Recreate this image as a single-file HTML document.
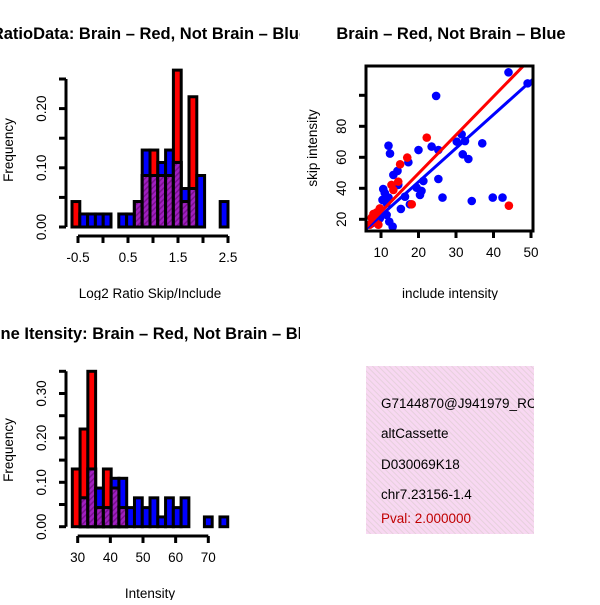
<!DOCTYPE html>
<html><head><meta charset="utf-8"><style>
body{margin:0;background:#fff}
svg text{font-family:"Liberation Sans",sans-serif}
</style></head><body>
<svg id="c" width="600" height="600" xmlns="http://www.w3.org/2000/svg">
<defs>
<pattern id="hatch" width="4" height="4" patternUnits="userSpaceOnUse" patternTransform="rotate(45)">
<rect width="4" height="4" fill="#a020c0"/><rect width="1.5" height="4" fill="#7a1090"/></pattern>
<pattern id="pink" width="4" height="4" patternUnits="userSpaceOnUse" patternTransform="rotate(-45)">
<rect width="4" height="4" fill="#f8d8f2"/><rect width="1" height="4" fill="#e6d0dc"/></pattern>
</defs>
<svg x="0" y="0" width="300" height="300" id="p1"></svg>
<svg x="300" y="0" width="300" height="300" id="p2"></svg>
<svg x="0" y="300" width="300" height="300" id="p3"></svg>
<svg x="300" y="300" width="300" height="300" id="p4">
<rect x="66" y="66" width="168" height="168" fill="url(#pink)"/>
<svg x="66" y="66" width="168" height="168">
<text x="15" y="42" font-size="13.5">G7144870@J941979_RC</text>
<text x="15" y="72" font-size="13.5">altCassette</text>
<text x="15" y="103" font-size="13.5">D030069K18</text>
<text x="15" y="133" font-size="13.5">chr7.23156-1.4</text>
<text x="15" y="157" font-size="13.5" fill="#c00000">Pval: 2.000000</text>
</svg>
</svg>
</svg>
<script>
// ---- data ----
const ratioBinStart = -0.62, ratioBinWidth = 0.156;
const ratioRed  = [0.043,0,0,0,0,0,0,0,0.043,0.087,0.13,0.087,0.087,0.265,0.043,0.22,0,0,0,0];
const ratioBlue = [0,0.022,0.022,0.022,0.022,0,0.022,0.022,0.043,0.13,0.087,0.109,0.13,0.109,0.065,0.065,0.087,0,0,0.043];
const ratioXTicks = [-0.5,0.5,1.5,2.5];
const ratioXTicksMinor = [-0.5,0,0.5,1,1.5,2,2.5];
const ratioYTicks = [0,0.05,0.10,0.15,0.20,0.25];
const ratioYLabels = ["0.00","","0.10","","0.20",""];

const intBinStart = 28.35, intBinWidth = 2.38;
const intRed  = [0.13,0.22,0.35,0.043,0.13,0.087,0.043,0,0,0,0,0,0,0,0,0,0,0,0,0];
const intBlue = [0,0.065,0.13,0.087,0.043,0.109,0.109,0.043,0.065,0.043,0.065,0.022,0.065,0.043,0.065,0,0,0.022,0,0.022];
const intXTicks = [30,40,50,60,70];
const intYTicks = [0,0.05,0.10,0.15,0.20,0.25,0.30,0.35];
const intYLabels = ["0.00","","0.10","","0.20","","0.30",""];

const blueX = [44,49.1,24.7,12,12.4,17.3,13.3,14.4,20,23.5,25.3,30.2,31.5,32.4,31.8,33.3,37,25.3,26.4,34.2,39.8,42.4,10.6,11,10.4,11.5,12,14.6,16.4,15.3,17.7,19.5,21.3,20.8,20.4,11.5,12.2,13.1,9.7,7.5];
const blueY = [114.8,107.7,99.6,67.5,62.4,56.8,48.6,51.2,64.7,66.9,64.7,70.1,74.8,70.5,61.9,58.9,69,46,34,31.8,34,34,39.5,37,32.5,30.5,34,42.2,34.6,26.7,29.7,40.4,44.7,38.3,35.7,22.8,18.5,15.3,20.6,17.4];
const redX = [22.2,17,15.1,12.8,13.3,14.6,18.2,44.1,8,8.9,7.5,8.4,9.3,7,9.7];
const redY = [72.7,59.8,55.5,42.2,38.9,44.3,29.7,28.8,23.5,24.5,21,18.7,16.5,16.5,27];
const redFit = [0, 2.48];
const blueFit = [0.75, 2.17];
const scXTicks = [10,20,30,40,50];
const scYTicks = [20,40,60,80,100];
const scYLabels = ["20","40","60","80",""];

const NS = "http://www.w3.org/2000/svg";
function mk(parent, tag, attrs){const e=document.createElementNS(NS,tag);for(const k in attrs)e.setAttribute(k,attrs[k]);parent.appendChild(e);return e;}
function txt(parent,x,y,s,size,rot,bold,anchor){const t=mk(parent,"text",{x:x,y:y,"font-size":size,"text-anchor":anchor||"middle"});if(bold)t.setAttribute("font-weight","bold");if(rot)t.setAttribute("transform","rotate(-90 "+x+" "+y+")");t.textContent=s;return t;}

function histogram(panel, binStart, binW, red, blue, xsc, ysc, xT, xTl, yT, yL, yAxisX, xAxisY, labels){
  const bars=mk(panel,"g",{});
  
  
  for(let i=0;i<red.length;i++){
    const x0=xsc(binStart+i*binW), x1=xsc(binStart+(i+1)*binW);
    const vals=[[red[i],"#ff0000"],[blue[i],"#0000ff"]].sort((a,b)=>b[0]-a[0]);
    for(const [v,col] of vals){
      if(v<=0)continue;
      const r=mk(bars,"rect",{x:x0,y:ysc(v),width:x1-x0,height:ysc(0)-ysc(v),fill:col,stroke:"#000","stroke-width":3});
      
      
    }
    const m=Math.min(red[i],blue[i]);
    if(m>0){
      const r=mk(bars,"rect",{x:x0,y:ysc(m),width:x1-x0,height:ysc(0)-ysc(m),fill:"url(#hatch)",stroke:"#000","stroke-width":3});
      
      
    }
  }
  const ya=mk(panel,"g",{stroke:"#000","stroke-width":3});
  
  
  mk(ya,"line",{x1:yAxisX,x2:yAxisX,y1:ysc(yT[0]),y2:ysc(yT[yT.length-1])});
  yT.forEach((v,i)=>{mk(ya,"line",{x1:yAxisX-7,x2:yAxisX,y1:ysc(v),y2:ysc(v)});
    if(yL[i]){const t=txt(panel,yAxisX-20,ysc(v),yL[i],13.5,true);}});
  const xa=mk(panel,"g",{stroke:"#000","stroke-width":3});
  
  
  mk(xa,"line",{x1:xsc(xT[0]),x2:xsc(xT[xT.length-1]),y1:xAxisY,y2:xAxisY});
  xT.forEach(v=>mk(xa,"line",{x1:xsc(v),x2:xsc(v),y1:xAxisY,y2:xAxisY+7}));
  xTl.forEach(v=>{const t=txt(panel,xsc(v),xAxisY+26,String(v),13.5);});
  let t=txt(panel,150,39,labels[0],16.5,false,true);
  t=txt(panel,13,150,"Frequency",13.5,true);
  t=txt(panel,150,298,labels[1],13.5);
}

// Panel 1
const p1=document.getElementById("p1");
histogram(p1,ratioBinStart,ratioBinWidth,ratioRed,ratioBlue,
  v=>78+(v+0.5)*50, v=>227-v*592, ratioXTicksMinor, ratioXTicks, ratioYTicks, ratioYLabels, 66, 236,
  ["RatioData: Brain \u2013 Red, Not Brain \u2013 Blue","Log2 Ratio Skip/Include"]);
// Panel 3
const p3=document.getElementById("p3");
histogram(p3,intBinStart,intBinWidth,intRed,intBlue,
  v=>77.7+(v-30)*3.265, v=>226.7-v*444, intXTicks, intXTicks, intYTicks, intYLabels, 66, 236,
  ["Gene Itensity: Brain \u2013 Red, Not Brain \u2013 Blue","Intensity"]);

// Panel 2 scatter
const p2=document.getElementById("p2");
const sx=v=>81+(v-10)*3.75, sy=v=>219.3-(v-20)*1.55;
const L=66,R=233,T=66,B=231;
mk(p2,"clipPath",{id:"sclip"}).appendChild(document.createElementNS(NS,"rect"));
const cr=p2.querySelector("#sclip rect");cr.setAttribute("x",L);cr.setAttribute("y",T);cr.setAttribute("width",R-L);cr.setAttribute("height",B-T);
const pts=mk(p2,"g",{"clip-path":"url(#sclip)"});


blueX.forEach((x,i)=>{const c=mk(pts,"circle",{cx:sx(x),cy:sy(blueY[i]),r:4.3,fill:"#0000ff"});
  
  });
redX.forEach((x,i)=>{const c=mk(pts,"circle",{cx:sx(x),cy:sy(redY[i]),r:4.3,fill:"#ff0000"});
  
  });
[[blueFit,"#0000ff","fit-line-not-brain"],[redFit,"#ff0000","fit-line-brain"]].forEach(([f,col,nm])=>{
  const x0=4,x1=55;
  const l=mk(pts,"line",{x1:sx(x0),y1:sy(f[0]+f[1]*x0),x2:sx(x1),y2:sy(f[0]+f[1]*x1),stroke:col,"stroke-width":3});
  
  
});
const box=mk(p2,"rect",{x:L,y:T,width:R-L,height:B-T,fill:"none",stroke:"#000","stroke-width":3});


const sax=mk(p2,"g",{stroke:"#000","stroke-width":3});


scXTicks.forEach(v=>{mk(sax,"line",{x1:sx(v),x2:sx(v),y1:B,y2:B+7});
  const t=txt(p2,sx(v),B+26,String(v),13.5);});
scYTicks.forEach((v,i)=>{mk(sax,"line",{x1:L-7,x2:L,y1:sy(v),y2:sy(v)});
  if(scYLabels[i]){const t=txt(p2,L-20,sy(v),scYLabels[i],13.5,true);}});
let t2=txt(p2,151,39,"Brain \u2013 Red, Not Brain \u2013 Blue",16.5,false,true);
t2=txt(p2,17,148,"skip intensity",13.5,true);
t2=txt(p2,150,298,"include intensity",13.5);
</script>
</body></html>
